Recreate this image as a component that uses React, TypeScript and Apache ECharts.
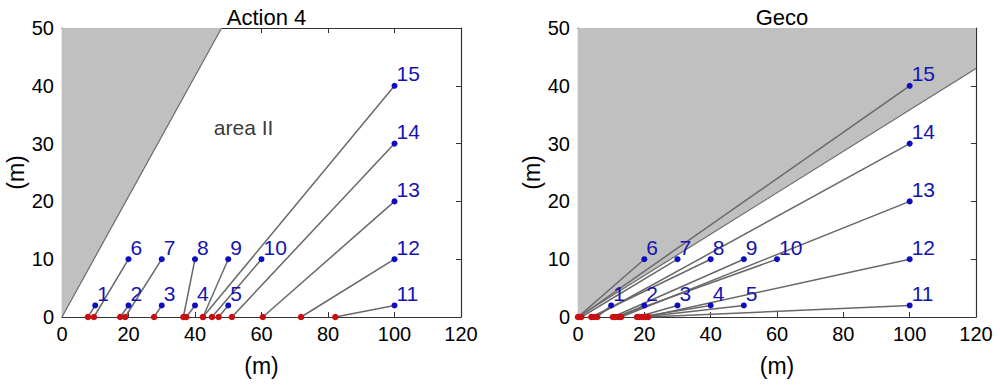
import React, { useEffect, useRef } from "react";
import * as echarts from "echarts";

// ---- data ----
const pointLabels = ["1", "2", "3", "4", "5", "6", "7", "8", "9", "10", "11", "12", "13", "14", "15"];
const pointX = [10, 20, 30, 40, 50, 20, 30, 40, 50, 60, 100, 100, 100, 100, 100];
const pointY = [2, 2, 2, 2, 2, 10, 10, 10, 10, 10, 2, 10, 20, 30, 40];
// x of the ground (red) point each line starts from
const actionFoot = [7.8, 17.5, 27.7, 37.4, 47.1, 9.6, 19.0, 36.5, 42.4, 45.1, 82.2, 71.9, 60.4, 51.1, 42.4];
const gecoFoot = [5.8, 12.2, 17.8, 18.6, 19.5, 0.0, 1.0, 4.0, 10.5, 11.3, 21.2, 20.4, 13.0, 4.8, 0.3];
// boundary of the grey region (filled up to the top of the plot)
const actionBoundary = [[0, 0], [48, 50]];
const gecoBoundary = [[0, 0], [120, 43]];
const panelTitles = ["Action 4", "Geco"];
const areaLabel = { text: "area II", x: 54.6, y: 32.7 };
const xTickStep = 20;
const yTickStep = 10;

const FONT = "'Liberation Sans', Arial, sans-serif";
const FRAME = "#333333";

function axisPair(kind: "x" | "y", gi: number) {
  const isX = kind === "x";
  const base = {
    gridIndex: gi,
    type: "value",
    min: 0,
    max: isX ? 120 : 50,
    interval: isX ? xTickStep : yTickStep,
    splitLine: { show: false },
    axisLine: { show: true, onZero: false, lineStyle: { color: FRAME, width: 1.2 } },
    axisTick: { show: true, inside: true, length: 5, lineStyle: { color: FRAME } },
  };
  const main: any = {
    ...base,
    position: isX ? "bottom" : "left",
    axisLabel: { show: true, color: "#000", fontSize: 20, fontFamily: FONT, margin: isX ? 7 : 8 },
    name: "(m)",
    nameLocation: "middle",
    nameGap: isX ? 37 : 33,
    nameTextStyle: { color: "#000", fontSize: 23, fontFamily: FONT },
  };
  const second: any = {
    ...base,
    position: isX ? "top" : "right",
    axisLabel: { show: false },
  };
  return [main, second];
}

function panelSeries(gi: number, foot: number[], boundary: number[][]) {
  const xi = gi * 2;
  const yi = gi * 2;
  const series: any[] = [
    {
      type: "line",
      xAxisIndex: xi,
      yAxisIndex: yi,
      data: boundary,
      symbol: "none",
      lineStyle: { color: "#6a6a6a", width: 1.2 },
      areaStyle: { color: "#c0c0c0", opacity: 1, origin: "end" },
      z: 1,
      silent: true,
    },
    {
      type: "lines",
      coordinateSystem: "cartesian2d",
      xAxisIndex: xi,
      yAxisIndex: yi,
      data: foot.map((r, i) => ({ coords: [[r, 0], [pointX[i], pointY[i]]] })),
      lineStyle: { color: "#686868", width: 1.5, opacity: 1 },
      z: 2,
      silent: true,
    },
    {
      type: "scatter",
      xAxisIndex: xi,
      yAxisIndex: yi,
      data: foot.map((r) => [r, 0]),
      symbolSize: 6.5,
      itemStyle: { color: "#c80f14", opacity: 1 },
      clip: false,
      z: 3,
      silent: true,
    },
    {
      type: "scatter",
      xAxisIndex: xi,
      yAxisIndex: yi,
      data: pointX.map((x, i) => [x, pointY[i], pointLabels[i]]),
      symbolSize: 6,
      itemStyle: { color: "#0c0cc0", opacity: 1 },
      clip: false,
      z: 4,
      silent: true,
      label: {
        show: true,
        position: "right",
        distance: 0,
        offset: [-1, -12],
        formatter: (p: any) => p.data[2],
        color: "#1414b0",
        opacity: 1,
        fontSize: 21,
        fontFamily: FONT,
      },
    },
  ];
  return series;
}

export default function App() {
  const ref = useRef<HTMLDivElement>(null);
  useEffect(() => {
    if (!ref.current) return;
    const chart = echarts.init(ref.current, undefined, { renderer: "svg" });
    const grids = [
      { left: 62, top: 28, width: 399, height: 289 },
      { left: 578, top: 28, width: 398, height: 289 },
    ];
    const xAxes = [...axisPair("x", 0), ...axisPair("x", 1)];
    const yAxes = [...axisPair("y", 0), ...axisPair("y", 1)];
    const series = [
      ...panelSeries(0, actionFoot, actionBoundary),
      ...panelSeries(1, gecoFoot, gecoBoundary),
      {
        type: "scatter",
        xAxisIndex: 0,
        yAxisIndex: 0,
        data: [[areaLabel.x, areaLabel.y]],
        symbolSize: 0,
        silent: true,
        label: {
          show: true,
          position: "inside",
          formatter: areaLabel.text,
          color: "#000",
          fontSize: 21,
          fontFamily: FONT,
        },
      },
    ];
    chart.setOption({
      animation: false,
      backgroundColor: "#ffffff",
      title: panelTitles.map((t, i) => ({
        text: t,
        left: grids[i].left + grids[i].width / 2,
        top: 1,
        textAlign: "center",
        textStyle: { color: "#000", fontSize: 22, fontWeight: "normal", fontFamily: FONT },
      })),
      grid: grids,
      xAxis: xAxes,
      yAxis: yAxes,
      series,
    });
    return () => chart.dispose();
  }, []);
  return (
    <div
      ref={ref}
      style={{ position: "fixed", left: 0, top: 0, width: 1000, height: 388 }}
    />
  );
}
